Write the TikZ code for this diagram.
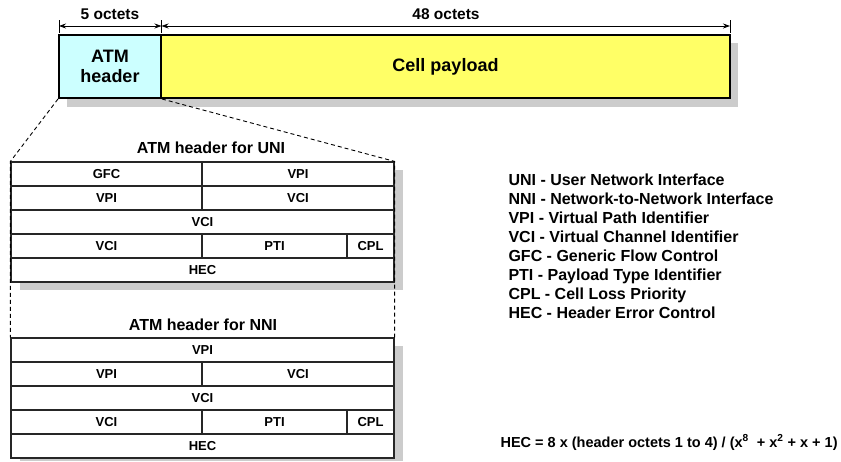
\documentclass[tikz,border=0pt]{standalone}
\usepackage{fontspec}
\setmainfont{Liberation Sans}
\usepackage{tikz}
\usetikzlibrary{arrows.meta}

\definecolor{shadowgray}{RGB}{204,204,204}
\definecolor{hdrcyan}{RGB}{204,255,255}
\definecolor{payyellow}{RGB}{255,255,102}

\begin{document}
\begin{tikzpicture}[x=1pt,y=-1pt,
	cell/.style={draw=black!85,line width=1.2pt,fill=white,inner sep=0pt,minimum height=24pt,font=\fontsize{13}{15}\selectfont\bfseries},
	big/.style={draw=black,line width=2pt,inner sep=0pt,minimum height=63pt,font=\fontsize{18}{20}\selectfont\bfseries},
	title/.style={anchor=base,font=\fontsize{16}{19}\selectfont\bfseries},
	lbl/.style={anchor=base,font=\fontsize{15.5}{18}\selectfont\bfseries},
	legend/.style={anchor=base west,font=\fontsize{16}{19}\selectfont\bfseries},
	dim/.style={{Stealth[length=7pt,width=5pt]}-{Stealth[length=7pt,width=5pt]},line width=0.8pt},
	zoomline/.style={dash pattern=on 4pt off 3pt,line width=0.9pt}]
		\useasboundingbox (0,0) rectangle (841,461);

		% shadows
		\fill[shadowgray] (67,43) rectangle (738,107);
		\fill[shadowgray] (20,170) rectangle (403,290);
		\fill[shadowgray] (20,346) rectangle (403,461);

		% the cell
		\node [big,fill=hdrcyan,minimum width=102pt,align=center] (hdr) at (110,66.5) {ATM\\header};
		\node [big,fill=payyellow,minimum width=569pt] (pay) at (445.5,66.5) {Cell payload};

		% octet counts
		\coordinate (d0) at (59,26);
		\coordinate (d1) at (161.5,26);
		\coordinate (d2) at (730,26);
		\draw [line width=0.8pt] (d0) ++(0,-6) -- ++(0,13);
		\draw [line width=0.8pt] (d1) ++(0,-6) -- ++(0,13);
		\draw [line width=0.8pt] (d2) ++(0,-6) -- ++(0,13);
		\draw [dim] (d0) -- (d1);
		\draw [dim] (d1) -- (d2);
		\node [lbl] (five) at (110,19) {5 octets};
		\node [lbl] (fortyeight) at (446,19) {48 octets};

		% header for UNI
		\node [title] (unititle) at (211,153) {ATM header for UNI};
		\node [cell,minimum width=191pt] (u1) at (106.5,174) {GFC};
		\node [cell,minimum width=192pt] (u2) at (298,174) {VPI};
		\node [cell,minimum width=191pt] (u3) at (106.5,198) {VPI};
		\node [cell,minimum width=192pt] (u4) at (298,198) {VCI};
		\node [cell,minimum width=383pt] (u5) at (202.5,222) {VCI};
		\node [cell,minimum width=191pt] (u6) at (106.5,246) {VCI};
		\node [cell,minimum width=145pt] (u7) at (274.5,246) {PTI};
		\node [cell,minimum width=47pt] (u8) at (370.5,246) {CPL};
		\node [cell,minimum width=383pt] (u9) at (202.5,270) {HEC};

		% header for NNI
		\node [title] (nnititle) at (203,330) {ATM header for NNI};
		\node [cell,minimum width=383pt] (n1) at (202.5,350) {VPI};
		\node [cell,minimum width=191pt] (n2) at (106.5,374) {VPI};
		\node [cell,minimum width=192pt] (n3) at (298,374) {VCI};
		\node [cell,minimum width=383pt] (n4) at (202.5,398) {VCI};
		\node [cell,minimum width=191pt] (n5) at (106.5,422) {VCI};
		\node [cell,minimum width=145pt] (n6) at (274.5,422) {PTI};
		\node [cell,minimum width=47pt] (n7) at (370.5,422) {CPL};
		\node [cell,minimum width=383pt] (n8) at (202.5,446) {HEC};

		% zoom lines
		\draw [zoomline] (hdr.south west) -- (u1.north west) -- (n1.north west);
		\draw [zoomline] (hdr.south east) -- (u2.north east) -- (n1.north east);

		% legend
		\foreach \abbr/\txt [count=\i] in {UNI/User Network Interface,NNI/Network-to-Network Interface,VPI/Virtual Path Identifier,VCI/Virtual Channel Identifier,GFC/Generic Flow Control,PTI/Payload Type Identifier,CPL/Cell Loss Priority,HEC/Header Error Control}
			\node [legend] (leg\i) at (505,166+19*\i) {\abbr\ - \txt};

		\node [legend,font=\fontsize{14.5}{17}\selectfont\bfseries] (hecformula) at (497,447) {HEC = 8 x (header octets 1 to 4) / (x\textsuperscript{8}\ \ + x\textsuperscript{2} + x + 1)};
\end{tikzpicture}
\end{document}
